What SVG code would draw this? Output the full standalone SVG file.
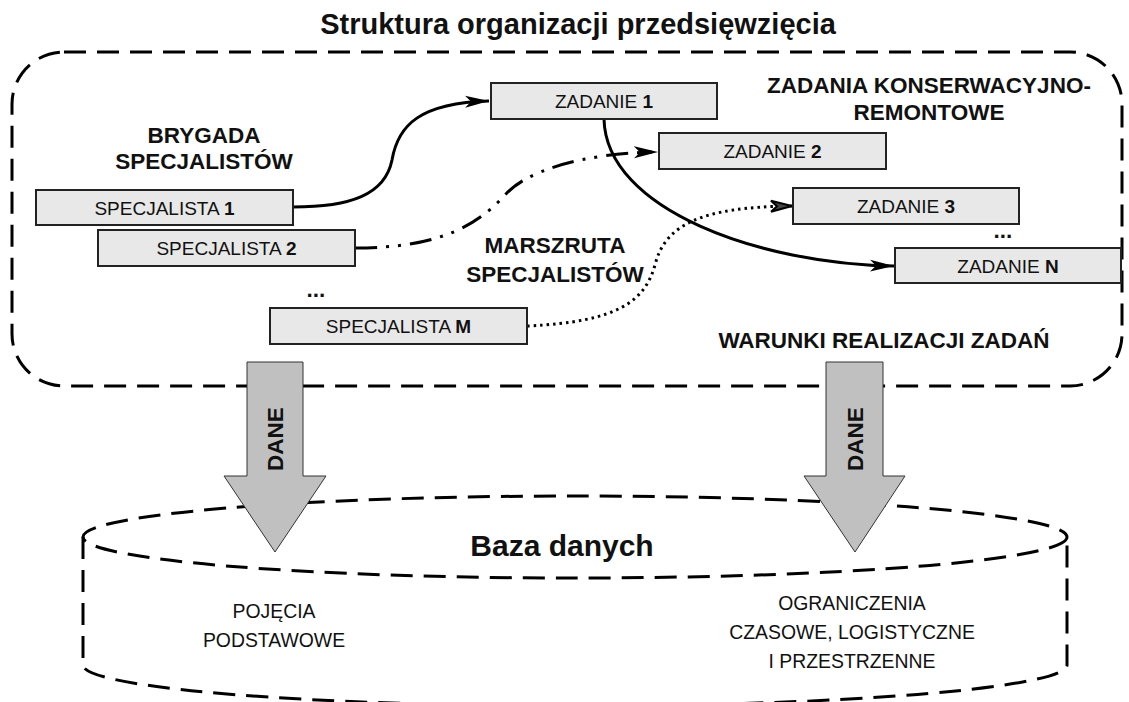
<svg xmlns="http://www.w3.org/2000/svg" width="1129" height="702" viewBox="0 0 1129 702">
<style>
text{font-family:"Liberation Sans",Arial,sans-serif;fill:#111}
.box{fill:#e8e8e8;stroke:#222;stroke-width:2}
.bl{font-size:19px;text-anchor:middle}
.lab{font-size:22.5px;font-weight:bold;text-anchor:middle}
.db{font-size:19.4px;text-anchor:middle}
.dash{fill:none;stroke:#000;stroke-width:3;stroke-dasharray:22 11}
.conn{fill:none;stroke:#000;stroke-width:3}
.big{fill:#c0c0c0;stroke:#333;stroke-width:1}
</style>
<defs>
<marker id="ah" markerUnits="userSpaceOnUse" markerWidth="26" markerHeight="14" viewBox="0 0 26 14" refX="24" refY="7" orient="auto">
<path d="M0,1 L24,7 L0,13 L6,7 Z" fill="#000"/>
</marker>
<marker id="ahd" markerUnits="userSpaceOnUse" markerWidth="26" markerHeight="16" viewBox="0 0 26 16" refX="23" refY="8" orient="auto">
<path d="M2,2.5 L23,8 L2,13.5 L8,8 Z" fill="#444" stroke="#000" stroke-width="2"/>
</marker>
</defs>

<text x="578" y="34" font-size="29" font-weight="bold" text-anchor="middle">Struktura organizacji przedsięwzięcia</text>

<g id="frame">
<rect class="dash" x="12" y="52" width="1110" height="334" rx="52" ry="52"/>
</g>

<g id="database">
<ellipse class="dash" cx="575" cy="537" rx="492" ry="41"/>
<path class="dash" d="M83,537 L83,665 A492,41 0 0 0 1067,665 L1067,537"/>
<text x="562" y="556" font-size="30" font-weight="bold" text-anchor="middle">Baza danych</text>
<text class="db" x="274" y="618">POJĘCIA</text>
<text class="db" x="274" y="647">PODSTAWOWE</text>
<text class="db" x="852" y="610">OGRANICZENIA</text>
<text class="db" x="852" y="639">CZASOWE, LOGISTYCZNE</text>
<text class="db" x="852" y="668">I PRZESTRZENNE</text>
</g>

<g id="labels">
<text class="lab" x="204" y="143">BRYGADA</text>
<text class="lab" x="204" y="169">SPECJALISTÓW</text>
<text class="lab" x="555" y="253">MARSZRUTA</text>
<text class="lab" x="555" y="282">SPECJALISTÓW</text>
<text class="lab" x="929" y="93">ZADANIA KONSERWACYJNO-</text>
<text class="lab" x="929" y="120">REMONTOWE</text>
<text class="lab" x="884" y="348">WARUNKI REALIZACJI ZADAŃ</text>
<text class="lab" x="316" y="297" font-size="25">...</text>
<text class="lab" x="1003" y="238" font-size="25">...</text>
</g>

<g id="connectors">
<path class="conn" d="M293,207 C350,207 385,195 392,160 C398,125 420,103 489,101" marker-end="url(#ah)"/>
<path class="conn" d="M604,119 C606,210 760,264 894,266" marker-end="url(#ah)"/>
<path class="conn" d="M355,248 C445,248 480,222 505,195 C525,172 580,153 658,152" stroke-dasharray="22 9 3 9 3 9" marker-end="url(#ah)"/>
<path class="conn" d="M527,326 C620,322 645,300 655,265 C665,225 700,207 792,206" stroke-width="2.5" stroke-dasharray="2.5 4" marker-end="url(#ahd)"/>
</g>

<g id="spec1"><rect class="box" x="36" y="190" width="257" height="35"/><text class="bl" x="164.5" y="214.5">SPECJALISTA <tspan font-weight="bold">1</tspan></text></g>
<g id="spec2"><rect class="box" x="98" y="230" width="257" height="36"/><text class="bl" x="226.5" y="255">SPECJALISTA <tspan font-weight="bold">2</tspan></text></g>
<g id="specM"><rect class="box" x="270" y="308" width="257" height="36"/><text class="bl" x="398.5" y="333">SPECJALISTA <tspan font-weight="bold">M</tspan></text></g>
<g id="zad1"><rect class="box" x="491" y="83" width="226" height="36"/><text class="bl" x="604" y="108">ZADANIE <tspan font-weight="bold">1</tspan></text></g>
<g id="zad2"><rect class="box" x="659" y="133" width="227" height="36"/><text class="bl" x="772.5" y="158">ZADANIE <tspan font-weight="bold">2</tspan></text></g>
<g id="zad3"><rect class="box" x="793" y="188" width="226" height="36"/><text class="bl" x="906" y="213">ZADANIE <tspan font-weight="bold">3</tspan></text></g>
<g id="zadN"><rect class="box" x="895" y="248" width="226" height="35"/><text class="bl" x="1008" y="272.5">ZADANIE <tspan font-weight="bold">N</tspan></text></g>

<g id="arrow-left">
<path class="big" d="M247,362 L303,362 L303,476 L326,476 L275,552 L224,476 L247,476 Z"/>
<text class="lab" transform="translate(283,439) rotate(-90)">DANE</text>
</g>
<g id="arrow-right">
<path class="big" d="M826,362 L883,362 L883,476 L905,476 L855,552 L804,476 L826,476 Z"/>
<text class="lab" transform="translate(863,439) rotate(-90)">DANE</text>
</g>
</svg>
